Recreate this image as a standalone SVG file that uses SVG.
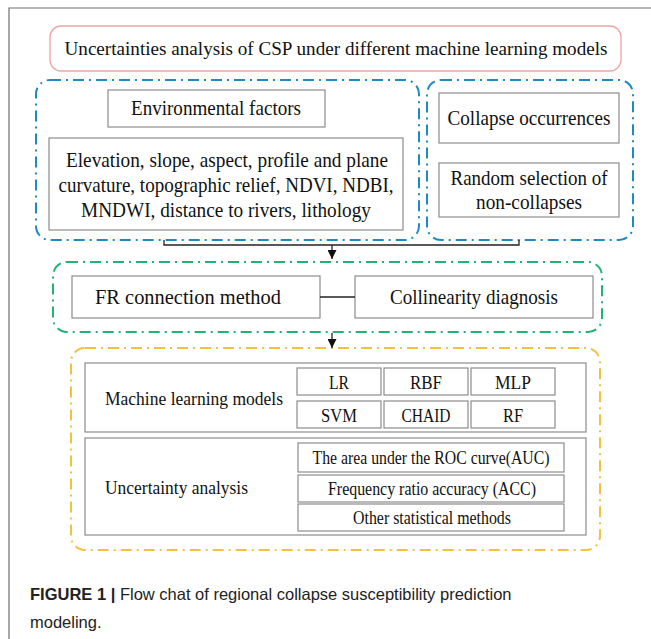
<svg xmlns="http://www.w3.org/2000/svg" width="651" height="639" viewBox="0 0 651 639">
  <style>
    .frame { fill: none; stroke: #6e6e6e; stroke-width: 1.2; }
    .box { fill: #ffffff; stroke: #8c8c8c; stroke-width: 1.2; }
    .title { fill: #ffffff; stroke: #eda5a5; stroke-width: 1.3; }
    .grp { fill: none; stroke-width: 2; stroke-dasharray: 11 5 2 5; }
    .blue { stroke: #1e8ac4; }
    .green { stroke: #1fb472; }
    .yellow { stroke: #f3c13e; }
    .t { font-family: "Liberation Serif", "DejaVu Serif", "Times New Roman", serif; font-size: 21px; fill: #111; text-anchor: middle; dominant-baseline: central; }
    .s { font-size: 19.5px; }
    .h { font-size: 19.5px; }
    .l { text-anchor: start; }
    .wire { fill: none; stroke: #222; stroke-width: 1.3; }
    .cap { font-family: "Liberation Sans", Arial, sans-serif; font-size: 16.5px; fill: #222; }
  </style>
  <defs>
    <marker id="arrow" viewBox="0 0 10 10" refX="10" refY="5" markerWidth="9" markerHeight="9" markerUnits="userSpaceOnUse" orient="auto">
      <path d="M0,0 L10,5 L0,10 z" fill="#111"/>
    </marker>
  </defs>

  <!-- figure frame -->
  <path class="frame" d="M9,639 V8 H651"/>

  <g id="title">
    <rect class="title" x="50" y="26" width="571" height="45" rx="11"/>
    <text class="t h" x="336" y="48" textLength="543" lengthAdjust="spacingAndGlyphs">Uncertainties analysis of CSP under different machine learning models</text>
  </g>

  <!-- input groups -->
  <g id="factors-group">
    <rect class="grp blue" x="36" y="80" width="383" height="160" rx="14"/>
  </g>
  <g id="samples-group">
    <rect class="grp blue" x="427" y="80" width="206" height="160" rx="14"/>
  </g>

  <g id="env-factors">
    <rect class="box" x="108" y="90" width="217" height="37"/>
    <text class="t" x="216" y="108" textLength="170" lengthAdjust="spacingAndGlyphs">Environmental factors</text>
  </g>
  <g id="factor-list">
    <rect class="box" x="49" y="138" width="354" height="92"/>
    <text class="t" x="227" y="160" textLength="322" lengthAdjust="spacingAndGlyphs">Elevation, slope, aspect, profile and plane</text>
    <text class="t" x="226" y="185" textLength="335" lengthAdjust="spacingAndGlyphs">curvature, topographic relief, NDVI, NDBI,</text>
    <text class="t" x="226" y="210" textLength="290" lengthAdjust="spacingAndGlyphs">MNDWI, distance to rivers,  lithology</text>
  </g>
  <g id="collapse">
    <rect class="box" x="439" y="93" width="180" height="50"/>
    <text class="t" x="529" y="118" textLength="163" lengthAdjust="spacingAndGlyphs">Collapse occurrences</text>
  </g>
  <g id="non-collapse">
    <rect class="box" x="439" y="163" width="180" height="54"/>
    <text class="t" x="529" y="178" textLength="157" lengthAdjust="spacingAndGlyphs">Random selection of</text>
    <text class="t" x="529" y="202" textLength="106" lengthAdjust="spacingAndGlyphs">non-collapses</text>
  </g>

  <!-- preprocessing group -->
  <g id="preprocess-group">
    <rect class="grp green" x="53" y="262" width="549" height="70" rx="14"/>
  </g>
  <g id="fr-method">
    <rect class="box" x="72" y="276" width="248" height="42"/>
    <text class="t" x="188" y="297" textLength="186" lengthAdjust="spacingAndGlyphs">FR connection method</text>
  </g>
  <g id="collinearity">
    <rect class="box" x="355" y="276" width="238" height="42"/>
    <text class="t" x="474" y="297" textLength="168" lengthAdjust="spacingAndGlyphs">Collinearity diagnosis</text>
  </g>

  <!-- modelling group -->
  <g id="model-group">
    <rect class="grp yellow" x="71" y="348" width="529" height="202" rx="14"/>
  </g>
  <g id="ml-models">
    <rect class="box" x="85" y="363" width="501" height="69"/>
    <text class="t s l" x="105" y="398" textLength="178" lengthAdjust="spacingAndGlyphs">Machine learning models</text>
  </g>
  <g id="lr"><rect class="box" x="297" y="368" width="84" height="27"/><text class="t s" x="339" y="382" textLength="20" lengthAdjust="spacingAndGlyphs">LR</text></g>
  <g id="rbf"><rect class="box" x="384" y="368" width="84" height="27"/><text class="t s" x="426" y="382" textLength="32" lengthAdjust="spacingAndGlyphs">RBF</text></g>
  <g id="mlp"><rect class="box" x="471" y="368" width="84" height="27"/><text class="t s" x="513" y="382" textLength="36" lengthAdjust="spacingAndGlyphs">MLP</text></g>
  <g id="svm"><rect class="box" x="297" y="401" width="84" height="27"/><text class="t s" x="339" y="415" textLength="36" lengthAdjust="spacingAndGlyphs">SVM</text></g>
  <g id="chaid"><rect class="box" x="384" y="401" width="84" height="27"/><text class="t s" x="426" y="415" textLength="49" lengthAdjust="spacingAndGlyphs">CHAID</text></g>
  <g id="rf"><rect class="box" x="471" y="401" width="84" height="27"/><text class="t s" x="513" y="415" textLength="20" lengthAdjust="spacingAndGlyphs">RF</text></g>

  <g id="uncertainty">
    <rect class="box" x="85" y="438" width="501" height="97"/>
    <text class="t s l" x="105" y="487" textLength="143" lengthAdjust="spacingAndGlyphs">Uncertainty analysis</text>
  </g>
  <g id="auc">
    <rect class="box" x="298" y="443" width="266" height="29"/>
    <text class="t s" x="431" y="457" textLength="237" lengthAdjust="spacingAndGlyphs">The area under the ROC curve(AUC)</text>
  </g>
  <g id="acc">
    <rect class="box" x="298" y="475" width="266" height="27"/>
    <text class="t s" x="432" y="488" textLength="208" lengthAdjust="spacingAndGlyphs">Frequency ratio accuracy (ACC)</text>
  </g>
  <g id="other">
    <rect class="box" x="298" y="504" width="266" height="27"/>
    <text class="t s" x="432" y="517" textLength="158" lengthAdjust="spacingAndGlyphs">Other statistical methods</text>
  </g>

  <!-- connectors -->
  <g id="connectors">
    <path class="wire" d="M164,240 V245 H519 V240"/>
    <path class="wire" d="M332,245 V259" marker-end="url(#arrow)"/>
    <path class="wire" d="M320,297 H355"/>
    <path class="wire" d="M332,333 V348" marker-end="url(#arrow)"/>
  </g>

  <!-- caption -->
  <text class="cap" x="30" y="600"><tspan font-weight="bold">FIGURE 1 |</tspan> Flow chat of regional collapse susceptibility prediction</text>
  <text class="cap" x="30" y="628">modeling.</text>
</svg>
